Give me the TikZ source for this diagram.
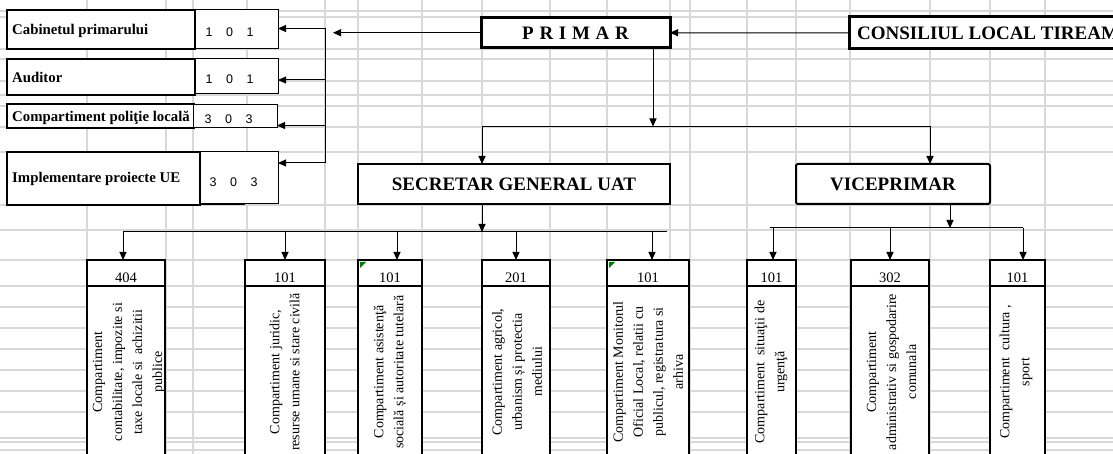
\documentclass[tikz,border=0pt]{standalone}
\usepackage{fontspec}
\setmainfont{Liberation Serif}
\newfontfamily\arialf{Liberation Sans}
\usetikzlibrary{arrows.meta}
\definecolor{gridgray}{RGB}{216,216,216}
\definecolor{cmtgreen}{RGB}{0,128,0}
\begin{document}
\begin{tikzpicture}[x=1pt,y=-1pt,
 gridline/.style={draw=gridgray,line width=1.3pt},
 conn/.style={draw=black,line width=1pt},
 arr/.style={conn,-{Triangle[length=8pt,width=7pt]}},
 thickbox/.style={draw=black,line width=3pt,fill=white,inner sep=0pt,outer sep=0pt},
 midbox/.style={draw=black,line width=2pt,fill=white,inner sep=0pt,outer sep=0pt},
 thinbox/.style={draw=black,line width=0.9pt,fill=white,inner sep=0pt,outer sep=0pt},
 lbltext/.style={font=\bfseries\fontsize{14.8}{16}\selectfont,anchor=base west,inner sep=0pt},
 numtext/.style={font=\arialf\fontsize{12.5}{14}\selectfont,anchor=base west,inner sep=0pt},
 hdrtext/.style={font=\fontsize{14.5}{16}\selectfont,anchor=base,inner sep=0pt},
 vtext/.style={font=\fontsize{14}{20}\selectfont,rotate=90,align=center,inner sep=0pt},
 bigtext/.style={font=\bfseries\fontsize{19}{21}\selectfont,inner sep=0pt},
]
\useasboundingbox (0,0) rectangle (1113,454);
\begin{scope}
\clip (0,0) rectangle (1113,454);
% spreadsheet grid
\foreach \y in {11,17,49,59,81,95,106,152,205,230,260,286,307,328,349,370,391,412,438,442,450}
  \draw[gridline] (0,\y) -- (1113,\y);
\draw[gridline,line width=2.6pt] (0,127) -- (1113,127);
\foreach \x in {87,166,193,247,325,358,422,482,550,607,670,690,747,796,850,930,990,1045}
  \draw[gridline] (\x,0) -- (\x,454);

% top boxes
\node[thickbox,minimum width=189pt,minimum height=30.5pt] (primar) at (575.5,32.75)
  {\bfseries\fontsize{19}{21}\selectfont P\hspace{0.3em}R\hspace{0.3em}I\hspace{0.3em}M\hspace{0.3em}A\hspace{0.3em}R};
\node[thickbox,minimum width=276pt,minimum height=32pt] (cons) at (987,33) {};
\node[bigtext,anchor=base west] (constext) at (857,40) {CONSILIUL LOCAL TIREAM};
\node[midbox,minimum width=312pt,minimum height=40pt] (sec) at (514,184)
  {\bfseries\fontsize{19}{21}\selectfont SECRETAR GENERAL UAT};
\node[midbox,rounded corners=2pt,minimum width=194pt,minimum height=40pt] (vice) at (893,184)
  {\bfseries\fontsize{19}{21}\selectfont VICEPRIMAR};

% left boxes
\node[midbox,minimum width=188pt,minimum height=39pt] (cabL) at (101,29.5) {};
\node[thinbox,minimum width=83pt,minimum height=39pt] (cabN) at (236.5,28.5) {};
\node[lbltext] (cabT) at (12,35) {Cabinetul primarului};
\node[numtext] (cabV) at (205.5,37) {1\hspace{13.5pt}0\hspace{13.5pt}1};

\node[midbox,minimum width=188pt,minimum height=36pt] (audL) at (101,77) {};
\node[thinbox,minimum width=83pt,minimum height=35pt] (audN) at (236.5,75.5) {};
\node[lbltext] (audT) at (12,83) {Auditor};
\node[numtext] (audV) at (205.5,84) {1\hspace{13.5pt}0\hspace{13.5pt}1};

\node[midbox,minimum width=187pt,minimum height=24pt] (polL) at (100.5,116) {};
\node[thinbox,minimum width=84pt,minimum height=23pt] (polN) at (235,115.5) {};
\node[lbltext] (polT) at (12,122) {Compartiment poliţie locală};
\node[numtext] (polV) at (204.5,124) {3\hspace{13.5pt}0\hspace{13.5pt}3};

\node[midbox,minimum width=193pt,minimum height=53pt] (impL) at (103.5,178.5) {};
\draw[line width=2pt] (200,204.5) -- (245,204.5);
\node[thinbox,minimum width=78pt,minimum height=52pt] (impN) at (239,177) {};
\node[lbltext] (impT) at (12,183) {Implementare proiecte UE};
\node[numtext] (impV) at (209.5,187) {3\hspace{13.5pt}0\hspace{13.5pt}3};

% bottom boxes: headers and bodies
\node[midbox,minimum width=78pt,minimum height=26pt] (h1) at (126,273) {};
\node[midbox,minimum width=78pt,minimum height=194pt] (b1) at (126,383) {};
\node[midbox,minimum width=80pt,minimum height=26pt] (h2) at (285,273) {};
\node[midbox,minimum width=80pt,minimum height=194pt] (b2) at (285,383) {};
\node[midbox,minimum width=64pt,minimum height=26pt] (h3) at (390,273) {};
\node[midbox,minimum width=64pt,minimum height=194pt] (b3) at (390,383) {};
\node[midbox,minimum width=68pt,minimum height=26pt] (h4) at (516,273) {};
\node[midbox,minimum width=68pt,minimum height=194pt] (b4) at (516,383) {};
\node[midbox,minimum width=82pt,minimum height=26pt] (h5) at (648,273) {};
\node[midbox,minimum width=82pt,minimum height=194pt] (b5) at (648,383) {};
\node[midbox,minimum width=49pt,minimum height=26pt] (h6) at (771.5,273) {};
\node[midbox,minimum width=49pt,minimum height=194pt] (b6) at (771.5,383) {};
\node[midbox,minimum width=78pt,minimum height=26pt] (h7) at (890,273) {};
\node[midbox,minimum width=78pt,minimum height=194pt] (b7) at (890,383) {};
\node[midbox,minimum width=55pt,minimum height=26pt] (h8) at (1017.5,273) {};
\node[midbox,minimum width=55pt,minimum height=194pt] (b8) at (1017.5,383) {};

\node[hdrtext] (n1) at (126,282) {404};
\node[hdrtext] (n2) at (285,282) {101};
\node[hdrtext] (n3) at (390,282) {101};
\node[hdrtext] (n4) at (516,282) {201};
\node[hdrtext] (n5) at (648,282) {101};
\node[hdrtext] (n6) at (771.5,282) {101};
\node[hdrtext] (n7) at (890,282) {302};
\node[hdrtext] (n8) at (1017.5,282) {101};

\fill[cmtgreen] (360,262) -- (366,262) -- (360,268) -- cycle;
\fill[cmtgreen] (609,262) -- (615,262) -- (609,268) -- cycle;

\node[vtext] (t1) at (129,372) {Compartiment\\contabilitate, impozite si\\taxe locale si\ \ achizitii\\publice};
\node[vtext] (t2) at (284.5,372) {Compartiment juridic,\\resurse umane si stare civilă};
\node[vtext] (t3) at (390,372) {Compartiment asistenţă\\socială și autoritate tutelară};
\node[vtext] (t4) at (517,372) {Compartiment agricol,\\urbanism și protectia\\mediului};
\node[vtext] (t5) at (648,372) {Compartiment Monitorul\\Oficial Local, relatii cu\\publicul, registratura si\\arhiva};
\node[vtext] (t6) at (771,372) {Compartiment\ \ situaţii de\\urgenţă};
\node[vtext] (t7) at (891.5,372) {Compartiment\\administrativ si gospodarire\\comunala};
\node[vtext] (t8) at (1016,372) {Compartiment\ \ cultura ,\\sport};

% connectors at the top
\coordinate (pleft) at (333,33);
\draw[arr] (cons.west) -- (primar.east);
\draw[arr] (primar.west) -- (primar.west -| pleft);
\coordinate (brT) at (325,28.5);
\coordinate (brB) at (325,163);
\coordinate (audA) at ([yshift=-4.5pt]audN.east);
\coordinate (polA) at ([yshift=-10pt]polN.east);
\draw[conn] (brT) -- (brB);
\draw[arr] (brT |- cabN.east) -- (cabN.east);
\draw[arr] (brT |- audA) -- (audA);
\draw[arr] (brT |- polA) -- (polA);
\draw[arr] (brB) -- (brB -| impN.east);

\coordinate (pbus) at (653,126.5);
\coordinate (busL) at (482,126.5);
\coordinate (busR) at (930,126.5);
\draw[arr] (primar.south -| pbus) -- (pbus);
\draw[conn] (busL) -- (busR);
\draw[arr] (busL) -- (busL |- sec.north);
\draw[arr] (busR) -- (busR |- vice.north);

% secretar branch
\coordinate (sbus) at (482,232);
\draw[arr] (sec.south -| sbus) -- (sbus);
\coordinate (s1) at (123,232);
\coordinate (s2) at (285,232);
\coordinate (s3) at (397,232);
\coordinate (s4) at (516,232);
\coordinate (s5) at (652,232);
\coordinate (sE) at (667,232);
\draw[conn] (s1) -- (sE);
\draw[arr] (s1) -- (s1 |- h1.north);
\draw[arr] (s2) -- (s2 |- h2.north);
\draw[arr] (s3) -- (s3 |- h3.north);
\draw[arr] (s4) -- (s4 |- h4.north);
\draw[arr] (s5) -- (s5 |- h5.north);

% viceprimar branch
\coordinate (vbus) at (950,228);
\draw[arr] (vice.south -| vbus) -- (vbus);
\coordinate (v0) at (770,228);
\coordinate (v1) at (773,228);
\coordinate (v2) at (890,228);
\coordinate (v3) at (1023,228);
\draw[conn] (v0) -- (v3);
\draw[arr] (v1) -- (v1 |- h6.north);
\draw[arr] (v2) -- (v2 |- h7.north);
\draw[arr] (v3) -- (v3 |- h8.north);
\end{scope}
\end{tikzpicture}
\end{document}
